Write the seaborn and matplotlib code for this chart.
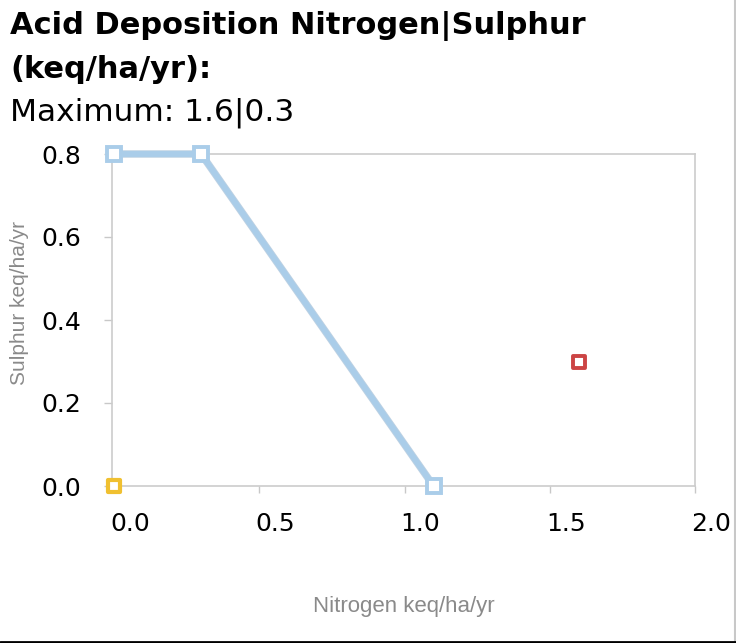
import matplotlib
matplotlib.use("Agg")
import matplotlib.pyplot as plt
import matplotlib.transforms as mtransforms
from matplotlib.lines import Line2D
import seaborn as sns
import pandas as pd

# Data
boundary_n = [0.0, 0.3, 1.1]
boundary_s = [0.8, 0.8, 0.0]
max_n = [1.6]
max_s = [0.3]
origin_n = [0.0]
origin_s = [0.0]
x_ticks = [0.0, 0.5, 1.0, 1.5, 2.0]
y_ticks = [0.0, 0.2, 0.4, 0.6, 0.8]

sns.set_theme(style="white")
plt.rcParams['font.family'] = ['DejaVu Sans']

fig = plt.figure(figsize=(7.36, 6.43), dpi=100)
ax = fig.add_axes([112/736, 1-486/643, (695-112)/736, (486-154)/643])

bdf = pd.DataFrame({"n": boundary_n, "s": boundary_s})
ax.plot(boundary_n, boundary_s, color="#bfd2e3", linewidth=5.4, clip_on=False, zorder=2,
        solid_joinstyle="round")
sns.lineplot(data=bdf, x="n", y="s", ax=ax, color="#aacde9", linewidth=4.2,
             marker="s", markersize=10, markerfacecolor="white",
             markeredgecolor="#aacde9", markeredgewidth=2.8, clip_on=False, zorder=3)

sns.scatterplot(x=max_n, y=max_s, ax=ax, marker="s", s=80, color="white",
                edgecolor="#cc4444", linewidth=2.8, clip_on=False, zorder=4)
sns.scatterplot(x=origin_n, y=origin_s, ax=ax, marker="s", s=80, color="white",
                edgecolor="#f0c030", linewidth=3.0, clip_on=False, zorder=5)

ax.set_xlim(-0.007, 2.0)
ax.set_ylim(0, 0.8)
ax.set_xticks(x_ticks)
ax.set_yticks(y_ticks)
ax.set_xticklabels([f"{v:.1f}" for v in x_ticks], fontsize=18, color="black")
ax.set_yticklabels([f"{v:.1f}" for v in y_ticks], fontsize=18, color="black")
ax.tick_params(axis="x", direction="out", length=5, width=1, color="#c8c8c8", pad=14, bottom=True)
ax.tick_params(axis="y", direction="out", length=6, width=1, color="#c8c8c8", pad=16, left=True)
offset = mtransforms.ScaledTranslation(16/100, 0, fig.dpi_scale_trans)
for lab in ax.get_xticklabels():
    lab.set_transform(lab.get_transform() + offset)
for sp in ax.spines.values():
    sp.set_color("#cccccc")
    sp.set_linewidth(1.2)
ax.grid(False)

ax.set_xlabel("Nitrogen keq/ha/yr", fontsize=16, color="#8a8a8a", family="Liberation Sans")
ax.set_ylabel("Sulphur keq/ha/yr", fontsize=15, color="#8a8a8a", family="Liberation Sans")
ax.xaxis.set_label_coords(0.5, -0.33)
ax.yaxis.set_label_coords(-0.143, 0.55)

fig.text(10/736, 1-34/643, "Acid Deposition Nitrogen|Sulphur", fontsize=22, fontweight="bold",
         color="black", ha="left", va="baseline")
fig.text(10/736, 1-78/643, "(keq/ha/yr):", fontsize=22, fontweight="bold",
         color="black", ha="left", va="baseline")
fig.text(10/736, 1-121/643, "Maximum: 1.6|0.3", fontsize=22.5,
         color="black", ha="left", va="baseline")

fig.add_artist(Line2D([734.5/736, 734.5/736], [0, 1], transform=fig.transFigure, color="#c8c8c8", linewidth=1.5))
fig.add_artist(Line2D([0, 1], [1/643, 1/643], transform=fig.transFigure, color="black", linewidth=2))

fig.savefig("out.png", dpi=100)
